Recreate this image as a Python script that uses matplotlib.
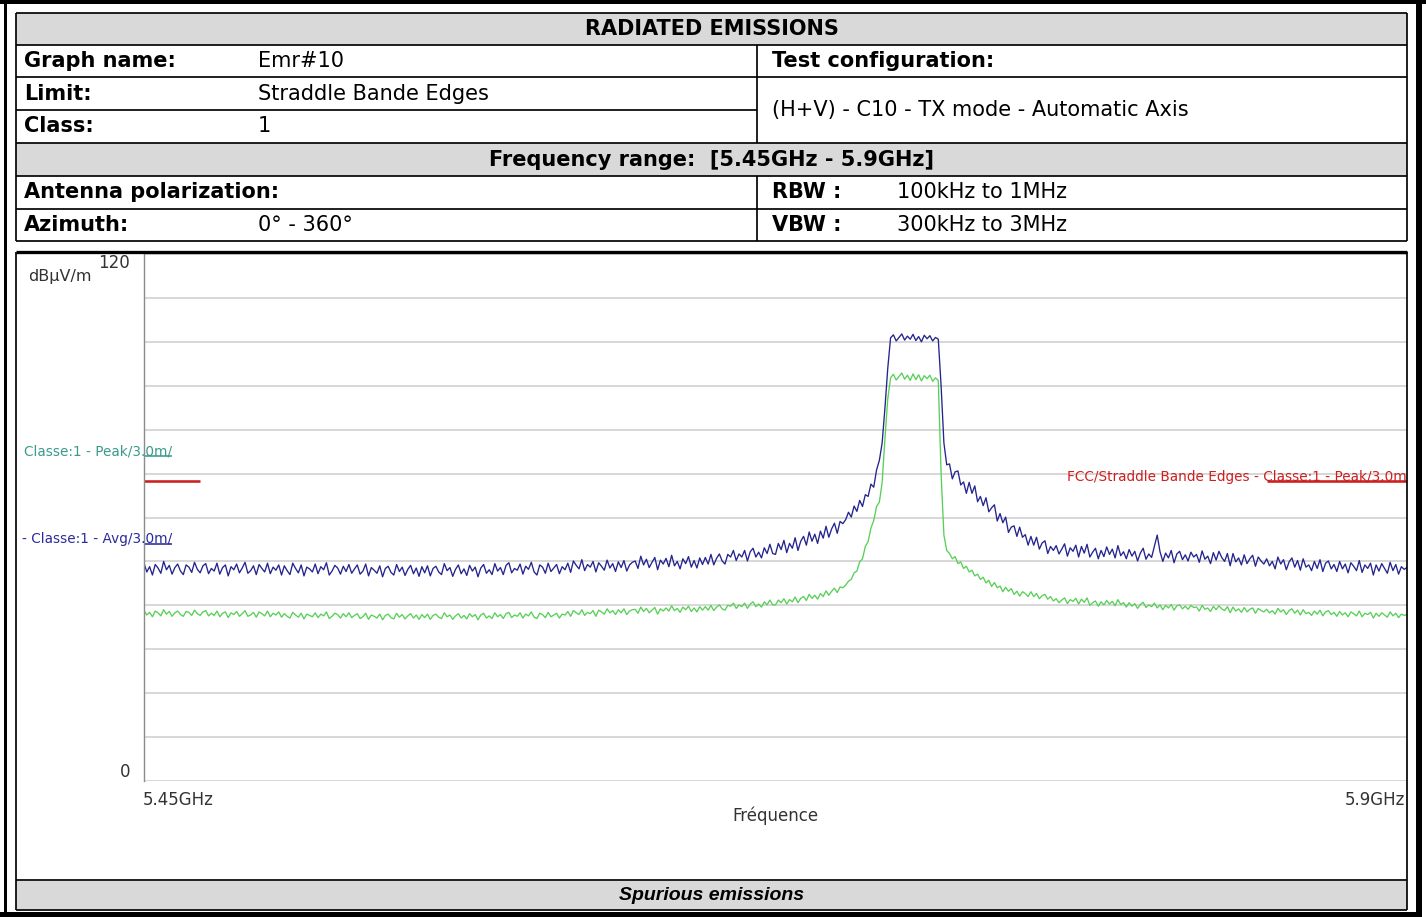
import numpy as np
import matplotlib.pyplot as plt
from matplotlib.patches import Rectangle
from matplotlib.lines import Line2D

plt.rcParams['font.family'] = ['DejaVu Sans']

# sweep grid, MHz (1 MHz step analyser points)
freq_mhz = np.arange(5450, 5901, 1)

# peak detector trace (H+V max), dBuV/m, one row = 25 MHz
peak_dbuv = [
    49.6, 47.6, 48.8, 46.9, 49.3, 48.5, 47.3, 50.0, 48.1, 49.1, 47.1, 48.6, 49.4, 47.8, 47.0, 49.2, 48.7, 47.5, 49.8, 48.2, 47.4, 49.0, 49.5, 47.2, 48.4,
    47.8, 49.6, 47.1, 48.6, 49.2, 46.7, 48.8, 48.1, 49.4, 47.4, 48.5, 49.8, 47.3, 47.9, 49.0, 47.0, 49.3, 48.4, 47.6, 49.6, 47.2, 48.7, 48.0, 49.2, 46.9,
    49.0, 47.9, 47.0, 49.6, 48.4, 47.4, 49.2, 46.7, 48.7, 48.3, 47.6, 49.4, 47.2, 48.8, 48.1, 49.7, 46.9, 47.8, 49.1, 48.5, 47.1, 48.9, 47.7, 49.3, 47.3,
    48.3, 49.2, 47.1, 47.8, 49.4, 46.7, 48.6, 48.0, 47.3, 49.0, 46.5, 48.4, 48.9, 47.5, 46.9, 49.3, 47.7, 48.7, 46.8, 48.2, 49.1, 47.2, 48.5, 46.6, 48.8,
    47.4, 49.0, 46.7, 48.4, 48.9, 47.6, 47.0, 49.5, 47.9, 48.6, 46.6, 48.2, 49.2, 47.2, 48.3, 46.8, 49.1, 47.8, 48.7, 46.5, 48.5, 49.3, 47.3, 48.1, 47.0,
    49.5, 47.8, 48.6, 47.0, 49.1, 49.7, 47.4, 48.4, 48.0, 49.4, 47.1, 48.9, 48.2, 49.8, 47.6, 46.9, 49.2, 48.7, 47.3, 49.6, 47.7, 48.5, 49.3, 47.2, 48.8,
    48.1, 49.6, 47.5, 50.1, 49.1, 48.3, 50.4, 47.9, 49.3, 48.7, 50.0, 47.6, 49.7, 48.9, 48.0, 50.3, 48.5, 49.5, 47.7, 49.9, 48.6, 50.2, 47.8, 49.2, 49.8,
    50.1, 48.4, 51.2, 49.2, 50.5, 48.6, 49.8, 50.9, 48.1, 50.3, 49.4, 50.7, 48.8, 51.4, 49.0, 50.0, 48.3, 50.6, 49.5, 51.1, 48.7, 50.2, 48.5, 50.8, 49.3,
    50.9, 49.4, 51.6, 49.2, 50.7, 51.7, 50.1, 49.4, 51.6, 51.0, 52.5, 50.2, 51.7, 51.0, 52.5, 50.1, 52.2, 53.0, 51.0, 52.1, 50.8, 53.1, 51.8, 53.9, 51.8,
    51.6, 54.1, 52.7, 54.8, 52.0, 54.1, 53.0, 55.4, 52.5, 54.6, 55.7, 53.7, 56.7, 54.6, 56.2, 54.1, 56.9, 55.3, 58.0, 55.5, 57.4, 58.7, 56.4, 59.1, 58.6,
    59.5, 61.2, 60.1, 62.6, 61.4, 63.9, 62.5, 65.2, 64.8, 67.6, 66.9, 70.8, 73.0, 77.0, 85.0, 94.0, 100.9, 101.6, 100.2, 101.0, 101.8, 100.4, 101.3, 100.6, 101.7,
    100.3, 101.2, 100.0, 101.5, 100.7, 101.4, 100.2, 101.0, 100.6, 90.0, 77.0, 72.0, 72.2, 68.8, 70.4, 70.6, 67.4, 68.1, 65.5, 68.0, 65.5, 67.2, 63.6, 64.8, 62.7,
    64.5, 61.3, 62.2, 62.9, 59.2, 60.9, 58.8, 60.1, 56.6, 57.8, 58.1, 55.7, 57.8, 55.5, 56.1, 53.7, 55.7, 53.7, 55.5, 52.8, 54.2, 54.7, 51.8, 53.4, 52.5,
    53.6, 51.7, 52.8, 54.0, 51.2, 53.1, 52.3, 53.7, 51.0, 53.4, 51.9, 53.9, 51.0, 52.1, 53.0, 50.6, 52.5, 51.1, 53.3, 51.6, 52.8, 50.8, 53.6, 51.3, 52.2,
    50.6, 52.7, 51.2, 52.3, 50.1, 51.9, 53.0, 50.5, 51.7, 50.9, 53.4, 56.0, 52.2, 50.0, 51.9, 50.8, 52.5, 49.7, 51.7, 52.3, 50.4, 51.5, 50.1, 52.1, 51.0,
    51.6, 49.8, 52.4, 50.5, 51.2, 49.5, 52.0, 50.3, 52.3, 50.9, 50.0, 51.8, 49.0, 51.8, 49.9, 50.8, 49.2, 51.5, 49.5, 50.6, 51.4, 48.9, 51.0, 50.1, 49.4,
    50.6, 49.0, 50.0, 48.3, 51.0, 49.4, 50.4, 48.1, 49.9, 50.8, 48.7, 50.2, 48.0, 50.6, 48.7, 49.2, 47.9, 50.0, 48.4, 50.4, 47.7, 49.6, 50.1, 48.3, 49.3,
    47.7, 50.0, 48.3, 49.4, 47.4, 49.7, 48.9, 47.9, 50.2, 47.5, 49.2, 48.4, 49.6, 46.9, 49.2, 47.8, 49.5, 48.4, 47.3, 49.8, 47.9, 49.3, 47.1, 48.8, 48.2,
    48.6,
]

# average detector trace, dBuV/m
avg_dbuv = [
    38.8, 37.8, 38.4, 37.4, 38.7, 38.3, 37.6, 39.0, 38.0, 38.6, 37.5, 38.3, 38.7, 37.9, 37.5, 38.6, 38.4, 37.7, 38.9, 38.1, 37.7, 38.5, 38.8, 37.6, 38.2,
    37.7, 38.7, 37.4, 38.2, 38.5, 37.2, 38.3, 37.9, 38.6, 37.5, 38.1, 38.8, 37.5, 37.8, 38.4, 37.3, 38.5, 38.1, 37.6, 38.7, 37.4, 38.2, 37.8, 38.5, 37.3,
    38.1, 37.5, 37.1, 38.4, 37.8, 37.3, 38.2, 36.9, 38.0, 37.7, 37.4, 38.3, 37.2, 38.0, 37.6, 38.5, 37.0, 37.5, 38.2, 37.9, 37.1, 38.1, 37.4, 38.3, 37.2,
    37.7, 38.1, 37.0, 37.4, 38.2, 36.8, 37.8, 37.5, 37.1, 38.0, 36.7, 37.7, 38.0, 37.2, 36.9, 38.2, 37.3, 37.9, 36.9, 37.6, 38.1, 37.1, 37.8, 36.8, 37.9,
    37.2, 38.0, 36.8, 37.7, 38.0, 37.3, 37.0, 38.3, 37.4, 37.8, 36.8, 37.6, 38.1, 37.1, 37.7, 36.9, 38.1, 37.4, 37.9, 36.7, 37.8, 38.2, 37.1, 37.6, 37.0,
    38.3, 37.4, 37.9, 37.0, 38.1, 38.4, 37.2, 37.8, 37.5, 38.3, 37.1, 38.0, 37.6, 38.5, 37.3, 37.0, 38.2, 37.9, 37.2, 38.4, 37.4, 37.8, 38.2, 37.1, 38.0,
    37.8, 38.6, 37.5, 38.8, 38.3, 37.9, 39.0, 37.7, 38.4, 38.1, 38.8, 37.5, 38.9, 38.5, 38.0, 39.2, 38.3, 38.8, 37.9, 39.0, 38.3, 39.2, 37.9, 38.7, 39.0,
    39.1, 38.2, 39.6, 38.6, 39.3, 38.3, 38.9, 39.5, 38.0, 39.2, 38.7, 39.4, 38.7, 39.9, 38.8, 39.3, 38.4, 39.6, 39.0, 39.8, 38.6, 39.4, 38.5, 39.7, 38.9,
    39.7, 38.9, 40.0, 38.8, 39.6, 40.1, 39.2, 38.9, 40.0, 39.8, 40.5, 39.3, 40.1, 39.7, 40.5, 39.3, 40.3, 40.8, 39.7, 40.3, 39.6, 40.8, 40.1, 41.2, 40.1,
    40.1, 41.2, 40.6, 41.5, 40.3, 41.3, 40.8, 41.9, 40.6, 41.6, 42.0, 41.1, 42.5, 41.6, 42.3, 41.4, 42.7, 42.0, 43.3, 42.3, 43.2, 43.9, 42.9, 44.2, 44.0,
    44.6, 45.5, 45.9, 47.4, 47.8, 49.9, 50.6, 53.4, 54.5, 57.6, 59.3, 62.5, 63.5, 68.0, 78.0, 87.0, 91.8, 92.6, 91.3, 92.1, 92.9, 91.5, 92.4, 91.2, 92.7,
    91.4, 92.5, 91.1, 92.3, 91.6, 92.4, 91.0, 91.8, 91.2, 70.0, 56.0, 52.5, 51.8, 50.6, 51.1, 49.5, 49.9, 48.4, 48.9, 47.6, 48.0, 46.7, 47.1, 45.9, 46.4,
    45.1, 45.7, 44.3, 45.2, 44.0, 44.4, 43.1, 44.1, 43.2, 43.8, 42.5, 43.2, 42.1, 43.1, 42.7, 42.0, 43.1, 42.0, 42.7, 41.5, 42.2, 42.5, 41.4, 42.0, 41.0,
    41.5, 40.6, 41.2, 41.7, 40.4, 41.3, 40.9, 41.6, 40.3, 41.4, 40.7, 41.7, 40.0, 40.6, 41.0, 39.8, 40.8, 40.1, 41.1, 40.3, 40.9, 39.9, 41.3, 40.2, 40.6,
    39.6, 40.6, 39.8, 40.4, 39.3, 40.2, 40.7, 39.5, 40.1, 39.7, 40.5, 39.4, 40.1, 39.0, 40.0, 39.4, 40.2, 38.9, 39.9, 40.1, 39.2, 39.8, 39.1, 40.0, 39.5,
    39.6, 38.7, 40.0, 39.1, 39.4, 38.6, 39.8, 39.0, 39.9, 39.2, 38.8, 39.7, 38.3, 39.6, 38.7, 39.2, 38.4, 39.5, 38.5, 39.1, 39.4, 38.2, 39.3, 38.8, 38.5,
    39.1, 38.3, 38.8, 38.0, 39.3, 38.5, 39.0, 37.9, 38.8, 39.2, 38.2, 38.9, 37.8, 39.0, 38.1, 38.4, 37.7, 38.7, 38.0, 38.9, 37.6, 38.5, 38.8, 37.9, 38.4,
    37.5, 38.6, 37.8, 38.3, 37.4, 38.5, 38.1, 37.6, 38.7, 37.4, 38.2, 37.9, 38.4, 37.1, 38.2, 37.5, 38.3, 37.8, 37.3, 38.5, 37.6, 38.2, 37.2, 38.0, 37.7,
    37.9,
]

# limit segments: (start MHz, stop MHz, level dBuV/m)
peak_restricted = (5450, 5460, 74.0)
avg_restricted = (5450, 5460, 54.0)
straddle_low = (5450, 5470, 68.2)
straddle_high = (5850, 5900, 68.2)

W, H = 1426, 917
fig = plt.figure(figsize=(W / 100, H / 100), dpi=100)


def fx(x):
    return x / W


def fy(y):
    return 1 - y / H


def hline(x0, x1, y, lw=1.7, color='black'):
    fig.add_artist(Line2D([fx(x0), fx(x1)], [fy(y), fy(y)], transform=fig.transFigure,
                          color=color, lw=lw * 0.72, solid_capstyle='butt'))


def vline(x, y0, y1, lw=1.7, color='black'):
    fig.add_artist(Line2D([fx(x), fx(x)], [fy(y0), fy(y1)], transform=fig.transFigure,
                          color=color, lw=lw * 0.72, solid_capstyle='butt'))


def box(x0, y0, x1, y1, color):
    fig.add_artist(Rectangle((fx(x0), fy(y1)), (x1 - x0) / W, (y1 - y0) / H,
                             transform=fig.transFigure, facecolor=color, edgecolor='none', zorder=0))


def txt(x, y, s, size=15, weight='normal', ha='left', style='normal', color='black', family=None):
    kw = {} if family is None else {'family': family}
    fig.text(fx(x), fy(y), s, fontsize=size, fontweight=weight, ha=ha, va='center',
             style=style, color=color, **kw)


# outer black frame
box(0, 0, W, 4, 'black')
box(4, 0, 7, H, 'black')
box(1416, 0, 1422, H, 'black')
box(0, 912, 1422, H, 'black')

# header table
L, R, MID = 16, 1407, 757
rows = [13, 45, 77, 110, 143, 176, 209, 241]
grey = '#d9d9d9'
box(L, rows[0], R, rows[1], grey)
box(L, rows[4], R, rows[5], grey)
for i, y in enumerate(rows):
    if i == 3:
        hline(L, MID, y)
    else:
        hline(L, R, y)
vline(L, rows[0], rows[-1])
vline(R, rows[0], rows[-1])
vline(MID, rows[1], rows[4])
vline(MID, rows[5], rows[7])

cx = (L + R) / 2
txt(cx, 29, 'RADIATED EMISSIONS', weight='bold', ha='center')
txt(24, 61, 'Graph name:', weight='bold')
txt(258, 61, 'Emr#10')
txt(772, 61, 'Test configuration:', weight='bold')
txt(24, 93.5, 'Limit:', weight='bold')
txt(258, 93.5, 'Straddle Bande Edges')
txt(24, 126.5, 'Class:', weight='bold')
txt(258, 126.5, '1')
txt(772, 110, '(H+V) - C10 - TX mode - Automatic Axis')
txt(cx, 159.5, 'Frequency range:  [5.45GHz - 5.9GHz]', weight='bold', ha='center')
txt(24, 192.5, 'Antenna polarization:', weight='bold')
txt(772, 192.5, 'RBW :', weight='bold')
txt(897, 192.5, '100kHz to 1MHz')
txt(24, 225, 'Azimuth:', weight='bold')
txt(258, 225, '0° - 360°')
txt(772, 225, 'VBW :', weight='bold')
txt(897, 225, '300kHz to 3MHz')

# chart panel
PT, PB = 252, 910
hline(L, R, PT, lw=3.3)
vline(L, PT, PB)
vline(R, PT, PB)
box(L, 881, R, PB, grey)
hline(L, R, 880)
hline(L, R, PB)
txt(cx, 895.5, 'Spurious emissions', size=14, weight='bold', ha='center', style='italic',
    family='Liberation Sans')

# plot area
AX0, AX1, AY0, AY1 = 144, 1407, 254, 781
ax = fig.add_axes([fx(AX0), fy(AY1), (AX1 - AX0) / W, (AY1 - AY0) / H])
ax.set_xlim(5450, 5900)
ax.set_ylim(0, 120)
ax.set_yticks(np.arange(0, 121, 10))
ax.set_xticks([])
ax.tick_params(left=False, labelleft=False)
ax.grid(axis='y', color='#d4d4d4', lw=1.3)
ax.set_axisbelow(True)
for s in ['top', 'right', 'bottom']:
    ax.spines[s].set_visible(False)
ax.spines['left'].set_color('#8c8c8c')
ax.spines['left'].set_linewidth(1.0)
ax.patch.set_alpha(0)

ax.plot(freq_mhz, avg_dbuv, color='#58d058', lw=0.95)
ax.plot(freq_mhz, peak_dbuv, color='#24248e', lw=0.95)

panel_clip = Rectangle((fx(L + 1), fy(880)), (R - L - 1) / W, (880 - PT) / H, transform=fig.transFigure)

for (f0, f1, lev), col, lw in [(peak_restricted, '#3a9a8c', 1.6), (avg_restricted, '#2a2a9c', 1.6),
                                (straddle_low, '#cc2020', 2.6), (straddle_high, '#cc2020', 2.6)]:
    ax.plot([f0, f1], [lev, lev], color=col, lw=lw * 0.72, solid_capstyle='butt')

lab_kw = dict(fontsize=9.8, va='baseline', ha='right', clip_on=False)
for s, (f0, f1, lev), col in [('Classe:1 - Peak/3.0m/', peak_restricted, '#3a9a8c'),
                              ('- Classe:1 - Avg/3.0m/', avg_restricted, '#2a2a9c'),
                              ('FCC/Straddle Bande Edges - Classe:1 - Peak/3.0m', straddle_high, '#cc2020')]:
    t = ax.text(f1, lev + 0.15, s, color=col, **lab_kw)
    t.set_clip_path(panel_clip)

# axis annotations
yt = ax.get_yaxis_transform()
ax.text(-0.011, 120, '120', transform=yt, ha='right', va='top', fontsize=12, color='#333333')
ax.text(-0.011, 0, '0', transform=yt, ha='right', va='bottom', fontsize=12, color='#333333')
fig.text(fx(28), fy(276), 'dBµV/m', fontsize=11.5, color='#333333', va='center')
fig.text(fx(143), fy(800), '5.45GHz', fontsize=12, color='#333333', va='center')
fig.text(fx(1405), fy(800), '5.9GHz', fontsize=12, color='#333333', va='center', ha='right')
fig.text(fx((AX0 + AX1) / 2), fy(816), 'Fréquence', fontsize=12, color='#333333', va='center', ha='center')

fig.savefig('out.png', dpi=100)
